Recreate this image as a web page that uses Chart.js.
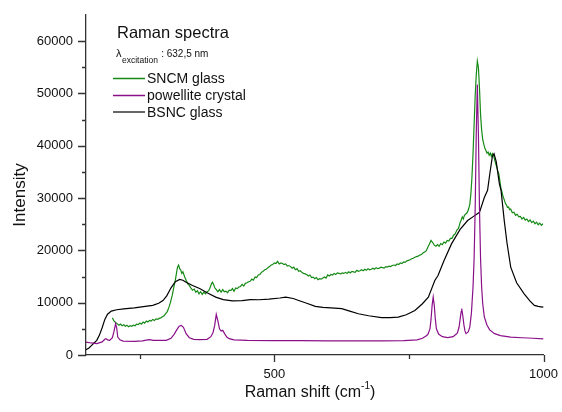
<!DOCTYPE html>
<html>
<head>
<meta charset="utf-8">
<script src="https://cdn.jsdelivr.net/npm/chart.js@4.4.1/dist/chart.umd.min.js"></script>
<style>
  body { margin: 0; background: #fff; }
  canvas { display: block; }
</style>
</head>
<body>
<canvas id="ramanChart" width="562" height="412"></canvas>
<script>
// Raman spectra, values
const xTickValues = [500, 1000];
const xMinorTicks = [250, 750];
const yTickValues = [0, 10000, 20000, 30000, 40000, 50000, 60000];
const yMinorTicks = [5000, 15000, 25000, 35000, 45000, 55000];

const seriesNames = ['SNCM glass', 'powellite crystal', 'BSNC glass'];

// SNCM glass (green)
const sncmShift = [199,202,205,208,211,214,217,220,223,226,229,232,235,238,241,244,247,250,253,256,259,262,265,268,271,274,277,280,283,286,289,292,295,298,301,304,307,310,313,316,318,320,322,324,326,328,330,333,336,339,342,345,348,351,354,357,360,363,366,369,372,375,378,381,383,385,387,389,392,395,398,401,404,407,410,413,416,419,422,425,428,431,434,437,440,443,446,449,452,455,458,461,464,467,470,473,476,479,482,485,488,491,494,497,500,503,506,509,512,515,518,521,524,527,530,533,536,539,542,545,548,551,554,557,560,563,566,569,572,575,578,581,584,587,590,593,596,599,602,605,608,611,614,617,620,623,626,629,632,635,638,641,644,647,650,653,656,659,662,665,668,671,674,677,680,683,686,689,692,695,698,701,704,707,710,713,716,719,722,725,728,731,734,737,740,743,746,749,752,755,758,761,764,767,770,773,776,779,782,785,788,791,794,797,800,803,806,809,812,815,818,821,824,827,830,833,836,839,842,845,847,849,851,853,855,857,859,861,863,865,867,869,871,873,875,877,879,881,883,885,887,889,891,893,895,897,899,901,903,905,907,909,911,913,915,917,919,921,923,925,927,929,931,933,935,937,939,942,945,948,951,954,957,960,963,966,969,972,975,978,981,984,987,990,993,996,999];
const sncmIntensity = [7100,6500,6200,6000,5700,5900,5600,5800,5500,5700,5400,5600,5500,5700,5600,5900,5800,6100,5900,6300,6100,6500,6300,6600,6500,6800,6600,6900,6800,7000,7100,7300,7500,7900,8300,9100,10100,11300,12900,14300,15600,16800,17200,16500,16300,15600,15900,15000,14300,13600,13300,12800,12400,12600,12000,12300,11700,12100,11600,12000,11700,12100,12300,13000,13600,13900,13500,12900,12500,12100,12500,12000,12500,12100,12200,11900,12400,12300,12700,12200,12800,12700,13000,13100,13500,13200,13700,13800,14000,14100,14500,14300,14900,14800,15300,15400,15800,16000,16300,16400,16700,16900,17200,17300,17600,17500,17900,17400,17600,17500,17300,17400,17000,17100,16900,16600,16800,16300,16500,16000,16100,15800,15600,15500,15400,15100,15300,14800,14900,14600,14800,14400,14600,14500,14700,14900,14700,15300,15100,15400,15300,15600,15400,15700,15600,15500,15700,15600,15800,15600,15900,15700,16000,15900,15800,16200,16000,16100,16300,16100,16400,16200,16500,16300,16400,16600,16400,16700,16500,16600,16800,16700,16600,16900,16800,17000,16900,17100,17200,17100,17400,17300,17600,17500,17800,17700,18000,18100,18200,18400,18500,18700,18800,18900,19100,19200,19500,19700,19900,20600,21200,21900,21500,21000,20800,21100,20800,21300,21100,21600,21400,21900,21800,22300,22300,22900,23200,23900,24200,25300,25800,26400,26000,26700,26900,27100,27400,28000,28800,30800,34000,38500,44000,49500,53500,56200,55000,51000,46000,43000,41200,40300,39500,39100,38600,38800,38200,38600,38000,38500,38200,37400,36600,36000,35200,34600,33200,31800,31100,30200,29700,29000,28700,28200,28300,27800,27900,27200,27300,26700,26900,26400,26500,26000,26300,25800,26000,25500,25800,25300,25600,25100,25400,24900,25200,24800,25100];

// powellite crystal (purple)
const powelliteShift = [150,160,170,180,185,187,190,194,199,202,205,207,209,213,219,240,255,262,268,275,299,308,314,318,323,327,331,336,342,350,361,375,382,386,389,392,395,398,401,404,408,412,416,425,450,500,550,600,650,700,740,765,775,781,785,789,791,793,795,797,799,801,805,812,822,832,838,840,843,845,847,848,850,852,854,856,860,863,866,869,871,873,875,877,879,881,883,885,887,890,895,900,909,920,939,960,980,1000];
const powelliteIntensity = [2480,2300,2170,2500,3000,3130,2900,2800,3300,4500,5990,5200,3430,2900,2670,2600,2700,2850,2940,2800,2800,3200,4000,4710,5500,5660,5300,4080,3300,3000,2940,3000,3500,4300,5600,7760,6500,5000,4580,4710,4000,3400,3130,2900,2800,2750,2750,2700,2700,2700,2750,2900,3200,3600,3900,5000,6800,9500,11060,9500,6800,5000,4000,3500,3320,3500,4000,4200,5300,6800,8300,8850,7500,5800,4600,4080,4400,5340,8000,13000,18400,27900,42300,51700,42300,27900,18400,13000,9800,7300,5700,4800,4080,3700,3430,3300,3200,3100];

// BSNC glass (black)
const bsncShift = [150,155,160,165,170,175,180,185,190,197,207,220,240,260,274,285,293,300,308,316,324,330,336,348,361,375,391,405,422,440,455,471,490,510,521,535,545,560,576,590,605,625,640,656,675,699,715,730,745,761,775,786,798,804,815,829,845,859,870,881,890,896,900,905,908,912,918,921,927,932,939,950,964,975,983,990,998,1000];
const bsncIntensity = [1000,1300,1800,2300,2800,3800,5200,6800,7800,8400,8650,8800,9000,9300,9480,9900,10400,11300,12850,14000,14440,14300,13900,13300,12700,11900,11060,10600,10350,10400,10600,10560,10700,10900,11060,10800,10430,9900,9290,9100,9000,8850,8400,7890,7500,7130,7150,7250,7700,8520,9800,11060,14250,15200,18000,21240,24000,25700,26500,27270,30100,31500,34500,38000,38500,37000,32700,31500,25700,21500,16800,13800,11700,10300,9480,9300,9150,9200];

const seriesColors = ['#168a16', '#8a108a', '#000000'];
const axisColor = '#333333';
const fontFamily = "'Liberation Sans', Arial, sans-serif";

const toPoints = (xs, ys) => xs.map((x, i) => ({ x: x, y: ys[i] }));

// text, legend and tick marks drawn on top
const annotations = {
    id: 'annotations',
    afterDraw(chart) {
        const c = chart.ctx;
        const xs = chart.scales.x;
        const ys = chart.scales.y;
        const area = chart.chartArea;
        c.save();

        // tick marks
        c.strokeStyle = axisColor;
        c.lineWidth = 1.3;
        c.beginPath();
        yTickValues.forEach(v => {
            const p = Math.round(ys.getPixelForValue(v)) + 0.5;
            c.moveTo(area.left - 8, p); c.lineTo(area.left, p);
        });
        yMinorTicks.forEach(v => {
            const p = Math.round(ys.getPixelForValue(v)) + 0.5;
            c.moveTo(area.left - 4, p); c.lineTo(area.left, p);
        });
        xTickValues.forEach(v => {
            const p = Math.round(xs.getPixelForValue(v)) + 0.5;
            c.moveTo(p, area.bottom); c.lineTo(p, area.bottom + 7);
        });
        xMinorTicks.forEach(v => {
            const p = Math.round(xs.getPixelForValue(v)) + 0.5;
            c.moveTo(p, area.bottom); c.lineTo(p, area.bottom + 4);
        });
        c.stroke();

        c.fillStyle = '#111';
        c.textBaseline = 'alphabetic';
        c.textAlign = 'left';

        // x title with superscript
        const t1 = 'Raman shift (cm', sup = '-1', t2 = ')';
        c.font = '16px ' + fontFamily;
        const w1 = c.measureText(t1).width, w3 = c.measureText(t2).width;
        c.font = '10px ' + fontFamily;
        const w2 = c.measureText(sup).width;
        let x0 = 310 - (w1 + w2 + w3) / 2;
        c.font = '16px ' + fontFamily;
        c.fillText(t1, x0, 397);
        c.font = '10px ' + fontFamily;
        c.fillText(sup, x0 + w1, 389);
        c.font = '16px ' + fontFamily;
        c.fillText(t2, x0 + w1 + w2, 397);

        // y title
        c.save();
        c.translate(25, 195);
        c.rotate(-Math.PI / 2);
        c.textAlign = 'center';
        c.font = '17px ' + fontFamily;
        c.fillText('Intensity', 0, 0);
        c.restore();

        // legend block
        c.font = '16.5px ' + fontFamily;
        c.fillText('Raman spectra', 117, 38);
        c.font = '11px ' + fontFamily;
        c.fillText('\u03bb', 116, 57);
        const lw = c.measureText('\u03bb').width;
        c.font = '8.5px ' + fontFamily;
        c.fillText('excitation', 116 + lw + 0.5, 63);
        const ew = c.measureText('excitation').width;
        c.font = '10px ' + fontFamily;
        c.fillText(' : 632,5 nm', 116 + lw + ew + 1, 57);

        const rows = [78.5, 95.5, 112];
        c.font = '14px ' + fontFamily;
        c.textBaseline = 'middle';
        seriesNames.forEach((name, i) => {
            c.strokeStyle = i === 2 ? '#333' : seriesColors[i];
            c.lineWidth = 1.5;
            c.beginPath();
            c.moveTo(113, rows[i]); c.lineTo(145, rows[i]);
            c.stroke();
            c.fillText(name, 147, rows[i] + 1);
        });
        c.restore();
    }
};

const ctx = document.getElementById('ramanChart');

new Chart(ctx, {
    type: 'line',
    data: {
        datasets: [
            { label: seriesNames[1], data: toPoints(powelliteShift, powelliteIntensity), borderColor: seriesColors[1], order: 0 },
            { label: seriesNames[2], data: toPoints(bsncShift, bsncIntensity), borderColor: seriesColors[2], order: 1 },
            { label: seriesNames[0], data: toPoints(sncmShift, sncmIntensity), borderColor: seriesColors[0], order: 2 }
        ]
    },
    options: {
        responsive: false,
        animation: false,
        elements: {
            point: { radius: 0 },
            line: { borderWidth: 1.2, tension: 0 }
        },
        layout: { padding: { left: 0, right: 16, top: 15, bottom: 0 } },
        plugins: {
            legend: { display: false },
            tooltip: { enabled: false }
        },
        scales: {
            x: {
                type: 'linear',
                min: 150,
                max: 1000,
                grid: { display: false, drawTicks: true, tickLength: 8 },
                border: { display: true, color: axisColor, width: 1.3 },
                ticks: { color: '#111', padding: 4, font: { family: fontFamily, size: 13 }, maxRotation: 0, callback: v => String(v) },
                afterBuildTicks: s => { s.ticks = xTickValues.map(v => ({ value: v })); },
                afterFit: s => { s.height = 412 - 355; }
            },
            y: {
                type: 'linear',
                min: 0,
                max: 65000,
                grid: { display: false, drawTicks: true, tickLength: 8 },
                border: { display: true, color: axisColor, width: 1.3 },
                ticks: { color: '#111', padding: 5, font: { family: fontFamily, size: 13 }, callback: v => String(v) },
                afterBuildTicks: s => { s.ticks = yTickValues.map(v => ({ value: v })); },
                afterFit: s => { s.width = 86; }
            }
        }
    },
    plugins: [annotations]
});
</script>
</body>
</html>
